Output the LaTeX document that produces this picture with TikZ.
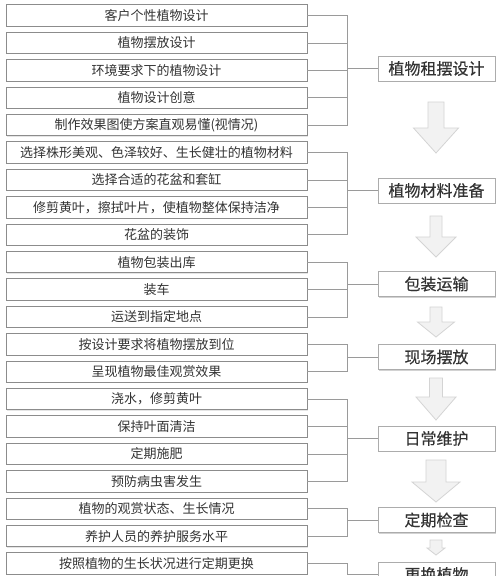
\documentclass[tikz,border=0pt]{standalone}
\usepackage{fontspec}
\newfontfamily\cjk{Noto Sans CJK SC}
\newfontfamily\cjkmid[FakeBold=0.4]{Noto Sans CJK SC}
\usepackage{tikz}
\usetikzlibrary{positioning,shadows}
\definecolor{boxline}{HTML}{8C8C8C}
\definecolor{linkline}{HTML}{9A9A9A}
\definecolor{arrowfill}{HTML}{F2F2F2}
\definecolor{arrowline}{HTML}{D4D4D4}
\definecolor{txt}{HTML}{333333}

\begin{document}
\begin{tikzpicture}[x=1pt,y=1pt,node distance=27.4pt,
  item node/.style={rectangle,draw=boxline,fill=white,line width=0.8pt,minimum width=301pt,minimum height=21.5pt,inner sep=0pt,text=txt,font=\cjk\fontsize{13pt}{13pt}\selectfont,
    drop shadow={shadow xshift=0.8pt,shadow yshift=-0.8pt,opacity=0.2}},
  stage node/.style={rectangle,draw=gray!65,fill=white,line width=0.8pt,minimum width=117pt,minimum height=25pt,inner sep=0pt,text=txt,font=\cjkmid\fontsize{16pt}{16pt}\selectfont,
    drop shadow={shadow xshift=1.2pt,shadow yshift=-1.2pt,opacity=0.35}},
  link/.style={draw=linkline,line width=0.7pt},
  big arrow/.style={draw=arrowline,fill=arrowfill,line width=0.8pt,line join=miter}]
  \useasboundingbox (0,0) rectangle (500,-576);
  \fill[white] (0,0) rectangle (500,-576);
  \clip (0,0) rectangle (500,-576);

  % left column
  \node[item node] (1) at (156.5,-15.5) {客户个性植物设计};
  \node[item node] (2) [below of=1] {植物摆放设计};
  \node[item node] (3) [below of=2] {环境要求下的植物设计};
  \node[item node] (4) [below of=3] {植物设计创意};
  \node[item node] (5) [below of=4] {制作效果图使方案直观易懂(视情况)};
  \node[item node] (6) [below of=5] {选择株形美观、色泽较好、生长健壮的植物材料};
  \node[item node] (7) [below of=6] {选择合适的花盆和套缸};
  \node[item node] (8) [below of=7] {修剪黄叶，擦拭叶片，使植物整体保持洁净};
  \node[item node] (9) [below of=8] {花盆的装饰};
  \node[item node] (10) [below of=9] {植物包装出库};
  \node[item node] (11) [below of=10] {装车};
  \node[item node] (12) [below of=11] {运送到指定地点};
  \node[item node] (13) [below of=12] {按设计要求将植物摆放到位};
  \node[item node] (14) [below of=13] {呈现植物最佳观赏效果};
  \node[item node] (15) [below of=14] {浇水，修剪黄叶};
  \node[item node] (16) [below of=15] {保持叶面清洁};
  \node[item node] (17) [below of=16] {定期施肥};
  \node[item node] (18) [below of=17] {预防病虫害发生};
  \node[item node] (19) [below of=18] {植物的观赏状态、生长情况};
  \node[item node] (20) [below of=19] {养护人员的养护服务水平};
  \node[item node] (21) [below of=20] {按照植物的生长状况进行定期更换};

  % stages
  \node[stage node] (A) at (436.5,-68.5) {植物租摆设计};
  \node[stage node] (B) at (436.5,-190.5) {植物材料准备};
  \node[stage node] (C) at (436.5,-284) {包装运输};
  \node[stage node] (D) at (436.5,-357) {现场摆放};
  \node[stage node] (E) at (436.5,-438.5) {日常维护};
  \node[stage node] (F) at (436.5,-520) {定期检查};
  \node[stage node] (G) at (436.5,-574.5) {更换植物};

  \coordinate[left=30pt of A.west] (ja);
  \coordinate[left=30pt of B.west] (jb);
  \coordinate[left=30pt of C.west] (jc);
  \coordinate[left=30pt of D.west] (jd);
  \coordinate[left=30pt of E.west] (je);
  \coordinate[left=30pt of F.west] (jf);
  \coordinate[left=30pt of G.west] (jg);

  % brackets
  \foreach \i in {1,...,5} \draw[link] (\i.east) -| (ja);
  \foreach \i in {6,...,9} \draw[link] (\i.east) -| (jb);
  \foreach \i in {10,11,12} \draw[link] (\i.east) -| (jc);
  \foreach \i in {13,14} \draw[link] (\i.east) -| (jd);
  \foreach \i in {15,...,18} \draw[link] (\i.east) -| (je);
  \foreach \i in {19,20} \draw[link] (\i.east) -| (jf);
  \draw[link] (21.east) -| (jg);
  \path[link]
    (ja) edge (A)
    (jb) edge (B)
    (jc) edge (C)
    (jd) edge (D)
    (je) edge (E)
    (jf) edge (F)
    (jg) edge (G);

  % down arrows between stages
  \foreach \ya/\yb/\yc/\sw/\hw in {102/128/153/8/22.5, 216/237/257/6/20, 307/322/337/6/18.5,
      378/397/420/6.5/20, 460/482/502/10/24, 540/548/555/6/9}
    \draw[big arrow] (436-\sw,-\ya) -- (436-\sw,-\yb) -- (436-\hw,-\yb) -- (436,-\yc)
      -- (436+\hw,-\yb) -- (436+\sw,-\yb) -- (436+\sw,-\ya) -- cycle;
\end{tikzpicture}
\end{document}
